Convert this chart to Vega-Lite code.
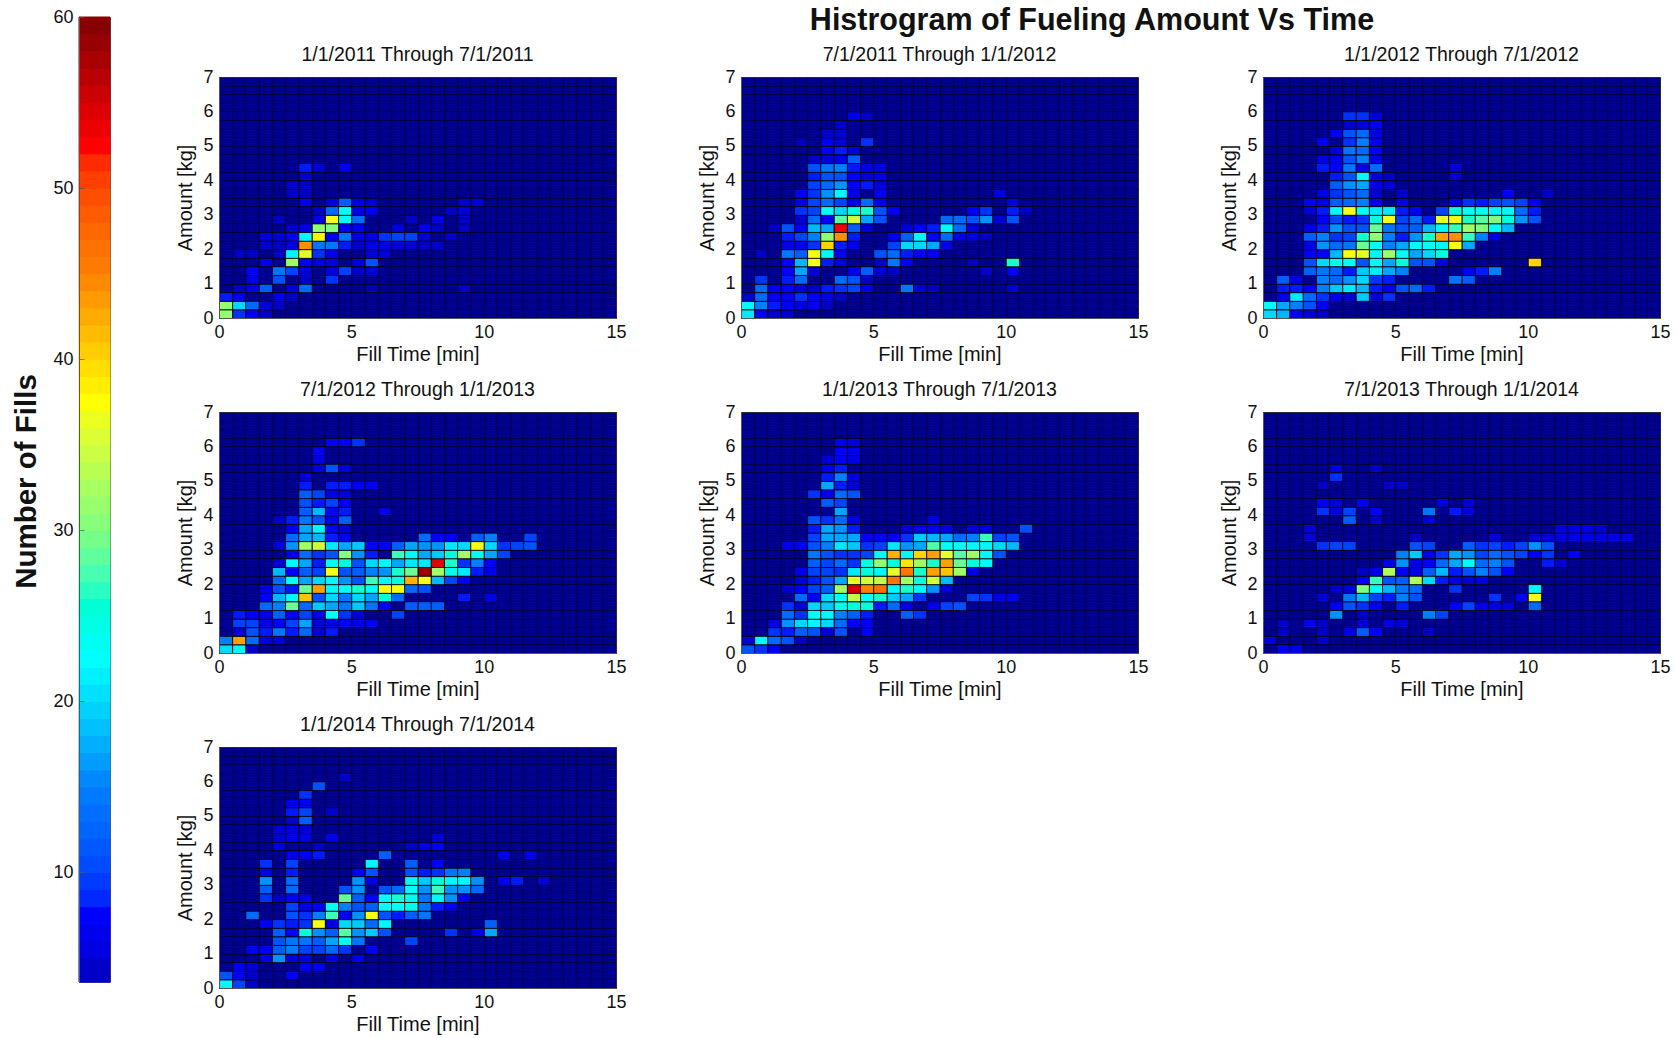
{"$schema":"https://vega.github.io/schema/vega-lite/v6.json","background":"white","padding":{"left":11,"top":6,"right":0,"bottom":0},"spacing":64,
"config":{"font":"Liberation Sans","axis":{"labelFont":"Liberation Sans","titleFont":"Liberation Sans","labelColor":"#111","titleColor":"#111","domainColor":"#555"},"view":{"stroke":"#555"}},
"datasets":{"bar":[{"v":3.6,"v2":5,"n":4},{"v":5,"v2":6,"n":5.5},{"v":6,"v2":7,"n":6.5},{"v":7,"v2":8,"n":7.5},{"v":8,"v2":9,"n":8.5},{"v":9,"v2":10,"n":9.5},{"v":10,"v2":11,"n":10.5},{"v":11,"v2":12,"n":11.5},{"v":12,"v2":13,"n":12.5},{"v":13,"v2":14,"n":13.5},{"v":14,"v2":15,"n":14.5},{"v":15,"v2":16,"n":15.5},{"v":16,"v2":17,"n":16.5},{"v":17,"v2":18,"n":17.5},{"v":18,"v2":19,"n":18.5},{"v":19,"v2":20,"n":19.5},{"v":20,"v2":21,"n":20.5},{"v":21,"v2":22,"n":21.5},{"v":22,"v2":23,"n":22.5},{"v":23,"v2":24,"n":23.5},{"v":24,"v2":25,"n":24.5},{"v":25,"v2":26,"n":25.5},{"v":26,"v2":27,"n":26.5},{"v":27,"v2":28,"n":27.5},{"v":28,"v2":29,"n":28.5},{"v":29,"v2":30,"n":29.5},{"v":30,"v2":31,"n":30.5},{"v":31,"v2":32,"n":31.5},{"v":32,"v2":33,"n":32.5},{"v":33,"v2":34,"n":33.5},{"v":34,"v2":35,"n":34.5},{"v":35,"v2":36,"n":35.5},{"v":36,"v2":37,"n":36.5},{"v":37,"v2":38,"n":37.5},{"v":38,"v2":39,"n":38.5},{"v":39,"v2":40,"n":39.5},{"v":40,"v2":41,"n":40.5},{"v":41,"v2":42,"n":41.5},{"v":42,"v2":43,"n":42.5},{"v":43,"v2":44,"n":43.5},{"v":44,"v2":45,"n":44.5},{"v":45,"v2":46,"n":45.5},{"v":46,"v2":47,"n":46.5},{"v":47,"v2":48,"n":47.5},{"v":48,"v2":49,"n":48.5},{"v":49,"v2":50,"n":49.5},{"v":50,"v2":51,"n":50.5},{"v":51,"v2":52,"n":51.5},{"v":52,"v2":53,"n":52.5},{"v":53,"v2":54,"n":53.5},{"v":54,"v2":55,"n":54.5},{"v":55,"v2":56,"n":55.5},{"v":56,"v2":57,"n":56.5},{"v":57,"v2":58,"n":57.5},{"v":58,"v2":59,"n":58.5},{"v":59,"v2":60,"n":59.5}],
"names":[{"p":1,"period":"1/1/2011 Through 7/1/2011"},{"p":2,"period":"7/1/2011 Through 1/1/2012"},{"p":3,"period":"1/1/2012 Through 7/1/2012"},{"p":4,"period":"7/1/2012 Through 1/1/2013"},{"p":5,"period":"1/1/2013 Through 7/1/2013"},{"p":6,"period":"7/1/2013 Through 1/1/2014"},{"p":7,"period":"1/1/2014 Through 7/1/2014"}],
"cells":[
{"p":1,"x":0,"y":0,"n":31},{"p":1,"x":0.5,"y":0,"n":9},{"p":1,"x":1,"y":0,"n":7},{"p":1,"x":1.5,"y":0,"n":4},{"p":1,"x":0,"y":0.25,"n":31},{"p":1,"x":0.5,"y":0.25,"n":20},{"p":1,"x":1,"y":0.25,"n":13},{"p":1,"x":1.5,"y":0.25,"n":5},{"p":1,"x":2,"y":0.25,"n":4},{"p":1,"x":0,"y":0.5,"n":8},{"p":1,"x":0.5,"y":0.5,"n":7},{"p":1,"x":2,"y":0.5,"n":6},{"p":1,"x":2.5,"y":0.5,"n":4},{"p":1,"x":0.5,"y":0.75,"n":4},{"p":1,"x":1,"y":0.75,"n":6},{"p":1,"x":1.5,"y":0.75,"n":12},{"p":1,"x":2.5,"y":0.75,"n":5},{"p":1,"x":3,"y":0.75,"n":13},{"p":1,"x":5.5,"y":0.75,"n":3},{"p":1,"x":9,"y":0.75,"n":4},{"p":1,"x":1,"y":1,"n":6},{"p":1,"x":2,"y":1,"n":11},{"p":1,"x":3,"y":1,"n":4},{"p":1,"x":4,"y":1,"n":9},{"p":1,"x":1,"y":1.25,"n":7},{"p":1,"x":2,"y":1.25,"n":14},{"p":1,"x":2.5,"y":1.25,"n":10},{"p":1,"x":3,"y":1.25,"n":5},{"p":1,"x":4,"y":1.25,"n":5},{"p":1,"x":4.5,"y":1.25,"n":10},{"p":1,"x":5,"y":1.25,"n":4},{"p":1,"x":5.5,"y":1.25,"n":5},{"p":1,"x":1.5,"y":1.5,"n":6},{"p":1,"x":2.5,"y":1.5,"n":32},{"p":1,"x":3,"y":1.5,"n":7},{"p":1,"x":3.5,"y":1.5,"n":6},{"p":1,"x":4,"y":1.5,"n":5},{"p":1,"x":5,"y":1.5,"n":5},{"p":1,"x":5.5,"y":1.5,"n":11},{"p":1,"x":0.5,"y":1.75,"n":4},{"p":1,"x":1,"y":1.75,"n":4},{"p":1,"x":2,"y":1.75,"n":4},{"p":1,"x":2.5,"y":1.75,"n":22},{"p":1,"x":3,"y":1.75,"n":36},{"p":1,"x":3.5,"y":1.75,"n":9},{"p":1,"x":4,"y":1.75,"n":6},{"p":1,"x":5.5,"y":1.75,"n":5},{"p":1,"x":6,"y":1.75,"n":5},{"p":1,"x":1.5,"y":2,"n":4},{"p":1,"x":2,"y":2,"n":4},{"p":1,"x":2.5,"y":2,"n":5},{"p":1,"x":3,"y":2,"n":44},{"p":1,"x":3.5,"y":2,"n":14},{"p":1,"x":4,"y":2,"n":14},{"p":1,"x":4.5,"y":2,"n":8},{"p":1,"x":5,"y":2,"n":4},{"p":1,"x":5.5,"y":2,"n":6},{"p":1,"x":6,"y":2,"n":6},{"p":1,"x":6.5,"y":2,"n":5},{"p":1,"x":7,"y":2,"n":5},{"p":1,"x":7.5,"y":2,"n":4},{"p":1,"x":8,"y":2,"n":4},{"p":1,"x":1.5,"y":2.25,"n":5},{"p":1,"x":2,"y":2.25,"n":5},{"p":1,"x":2.5,"y":2.25,"n":6},{"p":1,"x":3,"y":2.25,"n":22},{"p":1,"x":3.5,"y":2.25,"n":38},{"p":1,"x":4,"y":2.25,"n":7},{"p":1,"x":4.5,"y":2.25,"n":14},{"p":1,"x":5,"y":2.25,"n":6},{"p":1,"x":5.5,"y":2.25,"n":6},{"p":1,"x":6,"y":2.25,"n":9},{"p":1,"x":6.5,"y":2.25,"n":10},{"p":1,"x":7,"y":2.25,"n":10},{"p":1,"x":7.5,"y":2.25,"n":5},{"p":1,"x":8.5,"y":2.25,"n":4},{"p":1,"x":2.5,"y":2.5,"n":4},{"p":1,"x":3,"y":2.5,"n":6},{"p":1,"x":3.5,"y":2.5,"n":31},{"p":1,"x":4,"y":2.5,"n":30},{"p":1,"x":4.5,"y":2.5,"n":7},{"p":1,"x":5,"y":2.5,"n":7},{"p":1,"x":6.5,"y":2.5,"n":5},{"p":1,"x":7.5,"y":2.5,"n":6},{"p":1,"x":8,"y":2.5,"n":4},{"p":1,"x":9,"y":2.5,"n":4},{"p":1,"x":2,"y":2.75,"n":4},{"p":1,"x":3.5,"y":2.75,"n":6},{"p":1,"x":4,"y":2.75,"n":37},{"p":1,"x":4.5,"y":2.75,"n":23},{"p":1,"x":5,"y":2.75,"n":13},{"p":1,"x":7,"y":2.75,"n":4},{"p":1,"x":8,"y":2.75,"n":6},{"p":1,"x":9,"y":2.75,"n":4},{"p":1,"x":3.5,"y":3,"n":4},{"p":1,"x":4,"y":3,"n":13},{"p":1,"x":4.5,"y":3,"n":23},{"p":1,"x":5,"y":3,"n":6},{"p":1,"x":5.5,"y":3,"n":7},{"p":1,"x":8.5,"y":3,"n":4},{"p":1,"x":9,"y":3,"n":5},{"p":1,"x":3,"y":3.25,"n":6},{"p":1,"x":4,"y":3.25,"n":5},{"p":1,"x":4.5,"y":3.25,"n":12},{"p":1,"x":5,"y":3.25,"n":6},{"p":1,"x":5.5,"y":3.25,"n":4},{"p":1,"x":9,"y":3.25,"n":4},{"p":1,"x":9.5,"y":3.25,"n":5},{"p":1,"x":3,"y":3.5,"n":4},{"p":1,"x":2.5,"y":3.5,"n":4},{"p":1,"x":2.5,"y":3.75,"n":4},{"p":1,"x":3,"y":3.75,"n":4},{"p":1,"x":3,"y":4,"n":4},{"p":1,"x":3,"y":4.25,"n":8},{"p":1,"x":3.5,"y":4.25,"n":5},{"p":1,"x":4.5,"y":4.25,"n":7},
{"p":2,"x":0,"y":0,"n":21},{"p":2,"x":0.5,"y":0,"n":7},{"p":2,"x":1,"y":0,"n":4},{"p":2,"x":1.5,"y":0,"n":4},{"p":2,"x":0,"y":0.25,"n":22},{"p":2,"x":0.5,"y":0.25,"n":15},{"p":2,"x":1,"y":0.25,"n":8},{"p":2,"x":1.5,"y":0.25,"n":7},{"p":2,"x":2,"y":0.25,"n":6},{"p":2,"x":2.5,"y":0.25,"n":7},{"p":2,"x":3,"y":0.25,"n":4},{"p":2,"x":0,"y":0.5,"n":4},{"p":2,"x":0.5,"y":0.5,"n":13},{"p":2,"x":1,"y":0.5,"n":7},{"p":2,"x":1.5,"y":0.5,"n":7},{"p":2,"x":2,"y":0.5,"n":9},{"p":2,"x":2.5,"y":0.5,"n":7},{"p":2,"x":3,"y":0.5,"n":6},{"p":2,"x":3.5,"y":0.5,"n":4},{"p":2,"x":0.5,"y":0.75,"n":13},{"p":2,"x":1,"y":0.75,"n":6},{"p":2,"x":1.5,"y":0.75,"n":7},{"p":2,"x":2,"y":0.75,"n":5},{"p":2,"x":2.5,"y":0.75,"n":4},{"p":2,"x":3,"y":0.75,"n":8},{"p":2,"x":3.5,"y":0.75,"n":9},{"p":2,"x":4,"y":0.75,"n":10},{"p":2,"x":4.5,"y":0.75,"n":6},{"p":2,"x":6,"y":0.75,"n":14},{"p":2,"x":6.5,"y":0.75,"n":5},{"p":2,"x":7,"y":0.75,"n":4},{"p":2,"x":10,"y":0.75,"n":5},{"p":2,"x":0.5,"y":1,"n":9},{"p":2,"x":1.5,"y":1,"n":8},{"p":2,"x":2,"y":1,"n":13},{"p":2,"x":3.5,"y":1,"n":13},{"p":2,"x":4,"y":1,"n":11},{"p":2,"x":4.5,"y":1,"n":4},{"p":2,"x":1.5,"y":1.25,"n":7},{"p":2,"x":2,"y":1.25,"n":17},{"p":2,"x":2.5,"y":1.25,"n":5},{"p":2,"x":4,"y":1.25,"n":6},{"p":2,"x":4.5,"y":1.25,"n":12},{"p":2,"x":5,"y":1.25,"n":5},{"p":2,"x":5.5,"y":1.25,"n":4},{"p":2,"x":9,"y":1.25,"n":4},{"p":2,"x":10,"y":1.25,"n":7},{"p":2,"x":1.5,"y":1.5,"n":7},{"p":2,"x":2,"y":1.5,"n":18},{"p":2,"x":2.5,"y":1.5,"n":37},{"p":2,"x":3,"y":1.5,"n":8},{"p":2,"x":3.5,"y":1.5,"n":5},{"p":2,"x":5,"y":1.5,"n":4},{"p":2,"x":5.5,"y":1.5,"n":14},{"p":2,"x":6,"y":1.5,"n":7},{"p":2,"x":8.5,"y":1.5,"n":3},{"p":2,"x":10,"y":1.5,"n":26},{"p":2,"x":0.5,"y":1.75,"n":4},{"p":2,"x":1.5,"y":1.75,"n":14},{"p":2,"x":2,"y":1.75,"n":12},{"p":2,"x":2.5,"y":1.75,"n":37},{"p":2,"x":3,"y":1.75,"n":22},{"p":2,"x":3.5,"y":1.75,"n":7},{"p":2,"x":5,"y":1.75,"n":11},{"p":2,"x":5.5,"y":1.75,"n":13},{"p":2,"x":6,"y":1.75,"n":8},{"p":2,"x":6.5,"y":1.75,"n":7},{"p":2,"x":7,"y":1.75,"n":7},{"p":2,"x":1.5,"y":2,"n":6},{"p":2,"x":2,"y":2,"n":7},{"p":2,"x":2.5,"y":2,"n":9},{"p":2,"x":3,"y":2,"n":40},{"p":2,"x":3.5,"y":2,"n":8},{"p":2,"x":4,"y":2,"n":6},{"p":2,"x":5.5,"y":2,"n":10},{"p":2,"x":6,"y":2,"n":20},{"p":2,"x":6.5,"y":2,"n":20},{"p":2,"x":7,"y":2,"n":17},{"p":2,"x":7.5,"y":2,"n":6},{"p":2,"x":1.5,"y":2.25,"n":8},{"p":2,"x":2,"y":2.25,"n":10},{"p":2,"x":2.5,"y":2.25,"n":15},{"p":2,"x":3,"y":2.25,"n":31},{"p":2,"x":3.5,"y":2.25,"n":44},{"p":2,"x":4,"y":2.25,"n":8},{"p":2,"x":5.5,"y":2.25,"n":6},{"p":2,"x":6,"y":2.25,"n":12},{"p":2,"x":6.5,"y":2.25,"n":22},{"p":2,"x":7,"y":2.25,"n":7},{"p":2,"x":7.5,"y":2.25,"n":13},{"p":2,"x":8,"y":2.25,"n":6},{"p":2,"x":8.5,"y":2.25,"n":6},{"p":2,"x":9,"y":2.25,"n":4},{"p":2,"x":1,"y":2.5,"n":4},{"p":2,"x":1.5,"y":2.5,"n":11},{"p":2,"x":2,"y":2.5,"n":7},{"p":2,"x":2.5,"y":2.5,"n":18},{"p":2,"x":3,"y":2.5,"n":17},{"p":2,"x":3.5,"y":2.5,"n":53},{"p":2,"x":4,"y":2.5,"n":12},{"p":2,"x":4.5,"y":2.5,"n":5},{"p":2,"x":6,"y":2.5,"n":5},{"p":2,"x":6.5,"y":2.5,"n":7},{"p":2,"x":7,"y":2.5,"n":8},{"p":2,"x":7.5,"y":2.5,"n":22},{"p":2,"x":8,"y":2.5,"n":13},{"p":2,"x":8.5,"y":2.5,"n":5},{"p":2,"x":2,"y":2.75,"n":5},{"p":2,"x":2.5,"y":2.75,"n":13},{"p":2,"x":3,"y":2.75,"n":7},{"p":2,"x":3.5,"y":2.75,"n":28},{"p":2,"x":4,"y":2.75,"n":35},{"p":2,"x":4.5,"y":2.75,"n":17},{"p":2,"x":5,"y":2.75,"n":11},{"p":2,"x":7.5,"y":2.75,"n":13},{"p":2,"x":8,"y":2.75,"n":13},{"p":2,"x":8.5,"y":2.75,"n":11},{"p":2,"x":9,"y":2.75,"n":16},{"p":2,"x":9.5,"y":2.75,"n":5},{"p":2,"x":10,"y":2.75,"n":11},{"p":2,"x":2,"y":3,"n":9},{"p":2,"x":2.5,"y":3,"n":10},{"p":2,"x":3,"y":3,"n":23},{"p":2,"x":3.5,"y":3,"n":20},{"p":2,"x":4,"y":3,"n":25},{"p":2,"x":4.5,"y":3,"n":26},{"p":2,"x":5,"y":3,"n":11},{"p":2,"x":5.5,"y":3,"n":7},{"p":2,"x":8.5,"y":3,"n":7},{"p":2,"x":9,"y":3,"n":9},{"p":2,"x":10,"y":3,"n":8},{"p":2,"x":10.5,"y":3,"n":4},{"p":2,"x":2,"y":3.25,"n":6},{"p":2,"x":2.5,"y":3.25,"n":10},{"p":2,"x":3,"y":3.25,"n":13},{"p":2,"x":3.5,"y":3.25,"n":10},{"p":2,"x":4,"y":3.25,"n":6},{"p":2,"x":4.5,"y":3.25,"n":13},{"p":2,"x":5,"y":3.25,"n":6},{"p":2,"x":10,"y":3.25,"n":5},{"p":2,"x":2,"y":3.5,"n":7},{"p":2,"x":2.5,"y":3.5,"n":9},{"p":2,"x":3,"y":3.5,"n":16},{"p":2,"x":3.5,"y":3.5,"n":22},{"p":2,"x":4,"y":3.5,"n":6},{"p":2,"x":5,"y":3.5,"n":7},{"p":2,"x":9.5,"y":3.5,"n":5},{"p":2,"x":2.5,"y":3.75,"n":10},{"p":2,"x":3,"y":3.75,"n":13},{"p":2,"x":3.5,"y":3.75,"n":16},{"p":2,"x":4,"y":3.75,"n":7},{"p":2,"x":4.5,"y":3.75,"n":8},{"p":2,"x":5,"y":3.75,"n":5},{"p":2,"x":2.5,"y":4,"n":8},{"p":2,"x":3,"y":4,"n":11},{"p":2,"x":3.5,"y":4,"n":11},{"p":2,"x":4,"y":4,"n":7},{"p":2,"x":4.5,"y":4,"n":5},{"p":2,"x":5,"y":4,"n":6},{"p":2,"x":2.5,"y":4.25,"n":11},{"p":2,"x":3,"y":4.25,"n":14},{"p":2,"x":3.5,"y":4.25,"n":15},{"p":2,"x":4,"y":4.25,"n":8},{"p":2,"x":4.5,"y":4.25,"n":6},{"p":2,"x":5,"y":4.25,"n":6},{"p":2,"x":2.5,"y":4.5,"n":4},{"p":2,"x":3,"y":4.5,"n":5},{"p":2,"x":3.5,"y":4.5,"n":6},{"p":2,"x":4,"y":4.5,"n":12},{"p":2,"x":3,"y":4.75,"n":7},{"p":2,"x":3.5,"y":4.75,"n":8},{"p":2,"x":4,"y":4.75,"n":5},{"p":2,"x":3,"y":5,"n":7},{"p":2,"x":3.5,"y":5,"n":5},{"p":2,"x":4.5,"y":5,"n":9},{"p":2,"x":2,"y":5,"n":3},{"p":2,"x":3.5,"y":5.25,"n":5},{"p":2,"x":3,"y":5.25,"n":4},{"p":2,"x":3.5,"y":5.5,"n":4},{"p":2,"x":4,"y":5.75,"n":6},{"p":2,"x":4.5,"y":5.75,"n":4},
{"p":3,"x":0,"y":0,"n":20},{"p":3,"x":0.5,"y":0,"n":18},{"p":3,"x":1,"y":0,"n":7},{"p":3,"x":1.5,"y":0,"n":5},{"p":3,"x":2,"y":0,"n":4},{"p":3,"x":0,"y":0.25,"n":23},{"p":3,"x":0.5,"y":0.25,"n":17},{"p":3,"x":1,"y":0.25,"n":15},{"p":3,"x":1.5,"y":0.25,"n":11},{"p":3,"x":2,"y":0.25,"n":7},{"p":3,"x":0.5,"y":0.5,"n":6},{"p":3,"x":1,"y":0.5,"n":21},{"p":3,"x":1.5,"y":0.5,"n":13},{"p":3,"x":2,"y":0.5,"n":9},{"p":3,"x":2.5,"y":0.5,"n":6},{"p":3,"x":3,"y":0.5,"n":5},{"p":3,"x":3.5,"y":0.5,"n":19},{"p":3,"x":4,"y":0.5,"n":5},{"p":3,"x":4.5,"y":0.5,"n":9},{"p":3,"x":0.5,"y":0.75,"n":8},{"p":3,"x":1,"y":0.75,"n":8},{"p":3,"x":1.5,"y":0.75,"n":7},{"p":3,"x":2,"y":0.75,"n":15},{"p":3,"x":2.5,"y":0.75,"n":19},{"p":3,"x":3,"y":0.75,"n":21},{"p":3,"x":3.5,"y":0.75,"n":18},{"p":3,"x":4,"y":0.75,"n":8},{"p":3,"x":4.5,"y":0.75,"n":6},{"p":3,"x":5,"y":0.75,"n":11},{"p":3,"x":5.5,"y":0.75,"n":13},{"p":3,"x":6,"y":0.75,"n":8},{"p":3,"x":0.5,"y":1,"n":12},{"p":3,"x":1,"y":1,"n":6},{"p":3,"x":2,"y":1,"n":15},{"p":3,"x":2.5,"y":1,"n":13},{"p":3,"x":3,"y":1,"n":16},{"p":3,"x":3.5,"y":1,"n":20},{"p":3,"x":4,"y":1,"n":9},{"p":3,"x":4.5,"y":1,"n":8},{"p":3,"x":7,"y":1,"n":14},{"p":3,"x":7.5,"y":1,"n":12},{"p":3,"x":1.5,"y":1.25,"n":12},{"p":3,"x":2,"y":1.25,"n":14},{"p":3,"x":2.5,"y":1.25,"n":13},{"p":3,"x":3,"y":1.25,"n":8},{"p":3,"x":3.5,"y":1.25,"n":19},{"p":3,"x":4,"y":1.25,"n":21},{"p":3,"x":4.5,"y":1.25,"n":17},{"p":3,"x":5,"y":1.25,"n":15},{"p":3,"x":7.5,"y":1.25,"n":7},{"p":3,"x":8,"y":1.25,"n":8},{"p":3,"x":8.5,"y":1.25,"n":15},{"p":3,"x":1.5,"y":1.5,"n":11},{"p":3,"x":2,"y":1.5,"n":20},{"p":3,"x":2.5,"y":1.5,"n":24},{"p":3,"x":3,"y":1.5,"n":23},{"p":3,"x":3.5,"y":1.5,"n":11},{"p":3,"x":4,"y":1.5,"n":22},{"p":3,"x":4.5,"y":1.5,"n":17},{"p":3,"x":5,"y":1.5,"n":25},{"p":3,"x":5.5,"y":1.5,"n":11},{"p":3,"x":6,"y":1.5,"n":11},{"p":3,"x":6.5,"y":1.5,"n":5},{"p":3,"x":10,"y":1.5,"n":40},{"p":3,"x":1.5,"y":1.75,"n":7},{"p":3,"x":2,"y":1.75,"n":7},{"p":3,"x":2.5,"y":1.75,"n":18},{"p":3,"x":3,"y":1.75,"n":37},{"p":3,"x":3.5,"y":1.75,"n":36},{"p":3,"x":4,"y":1.75,"n":22},{"p":3,"x":4.5,"y":1.75,"n":32},{"p":3,"x":5,"y":1.75,"n":23},{"p":3,"x":5.5,"y":1.75,"n":17},{"p":3,"x":6,"y":1.75,"n":20},{"p":3,"x":6.5,"y":1.75,"n":25},{"p":3,"x":1.5,"y":2,"n":6},{"p":3,"x":2,"y":2,"n":16},{"p":3,"x":2.5,"y":2,"n":13},{"p":3,"x":3,"y":2,"n":14},{"p":3,"x":3.5,"y":2,"n":29},{"p":3,"x":4,"y":2,"n":23},{"p":3,"x":4.5,"y":2,"n":15},{"p":3,"x":5,"y":2,"n":17},{"p":3,"x":5.5,"y":2,"n":23},{"p":3,"x":6,"y":2,"n":23},{"p":3,"x":6.5,"y":2,"n":22},{"p":3,"x":7,"y":2,"n":37},{"p":3,"x":7.5,"y":2,"n":17},{"p":3,"x":1.5,"y":2.25,"n":12},{"p":3,"x":2,"y":2.25,"n":15},{"p":3,"x":2.5,"y":2.25,"n":9},{"p":3,"x":3,"y":2.25,"n":10},{"p":3,"x":3.5,"y":2.25,"n":26},{"p":3,"x":4,"y":2.25,"n":31},{"p":3,"x":4.5,"y":2.25,"n":15},{"p":3,"x":5,"y":2.25,"n":8},{"p":3,"x":5.5,"y":2.25,"n":16},{"p":3,"x":6,"y":2.25,"n":26},{"p":3,"x":6.5,"y":2.25,"n":43},{"p":3,"x":7,"y":2.25,"n":44},{"p":3,"x":7.5,"y":2.25,"n":27},{"p":3,"x":8,"y":2.25,"n":15},{"p":3,"x":8.5,"y":2.25,"n":6},{"p":3,"x":1.5,"y":2.5,"n":6},{"p":3,"x":2,"y":2.5,"n":8},{"p":3,"x":2.5,"y":2.5,"n":16},{"p":3,"x":3,"y":2.5,"n":11},{"p":3,"x":3.5,"y":2.5,"n":11},{"p":3,"x":4,"y":2.5,"n":29},{"p":3,"x":4.5,"y":2.5,"n":14},{"p":3,"x":5,"y":2.5,"n":11},{"p":3,"x":5.5,"y":2.5,"n":12},{"p":3,"x":6,"y":2.5,"n":18},{"p":3,"x":6.5,"y":2.5,"n":22},{"p":3,"x":7,"y":2.5,"n":27},{"p":3,"x":7.5,"y":2.5,"n":32},{"p":3,"x":8,"y":2.5,"n":30},{"p":3,"x":8.5,"y":2.5,"n":23},{"p":3,"x":9,"y":2.5,"n":18},{"p":3,"x":2,"y":2.75,"n":7},{"p":3,"x":2.5,"y":2.75,"n":10},{"p":3,"x":3,"y":2.75,"n":8},{"p":3,"x":3.5,"y":2.75,"n":9},{"p":3,"x":4,"y":2.75,"n":25},{"p":3,"x":4.5,"y":2.75,"n":37},{"p":3,"x":5,"y":2.75,"n":10},{"p":3,"x":5.5,"y":2.75,"n":13},{"p":3,"x":6,"y":2.75,"n":8},{"p":3,"x":6.5,"y":2.75,"n":36},{"p":3,"x":7,"y":2.75,"n":37},{"p":3,"x":7.5,"y":2.75,"n":26},{"p":3,"x":8,"y":2.75,"n":28},{"p":3,"x":8.5,"y":2.75,"n":30},{"p":3,"x":9,"y":2.75,"n":25},{"p":3,"x":9.5,"y":2.75,"n":16},{"p":3,"x":10,"y":2.75,"n":11},{"p":3,"x":1.5,"y":3,"n":5},{"p":3,"x":2,"y":3,"n":8},{"p":3,"x":2.5,"y":3,"n":22},{"p":3,"x":3,"y":3,"n":37},{"p":3,"x":3.5,"y":3,"n":23},{"p":3,"x":4,"y":3,"n":21},{"p":3,"x":4.5,"y":3,"n":21},{"p":3,"x":5,"y":3,"n":8},{"p":3,"x":5.5,"y":3,"n":7},{"p":3,"x":6.5,"y":3,"n":10},{"p":3,"x":7,"y":3,"n":25},{"p":3,"x":7.5,"y":3,"n":23},{"p":3,"x":8,"y":3,"n":23},{"p":3,"x":8.5,"y":3,"n":22},{"p":3,"x":9,"y":3,"n":22},{"p":3,"x":9.5,"y":3,"n":13},{"p":3,"x":10,"y":3,"n":8},{"p":3,"x":1.5,"y":3.25,"n":7},{"p":3,"x":2,"y":3.25,"n":6},{"p":3,"x":2.5,"y":3.25,"n":12},{"p":3,"x":3,"y":3.25,"n":13},{"p":3,"x":3.5,"y":3.25,"n":15},{"p":3,"x":4,"y":3.25,"n":6},{"p":3,"x":5,"y":3.25,"n":5},{"p":3,"x":7,"y":3.25,"n":6},{"p":3,"x":7.5,"y":3.25,"n":9},{"p":3,"x":8,"y":3.25,"n":8},{"p":3,"x":8.5,"y":3.25,"n":10},{"p":3,"x":9,"y":3.25,"n":11},{"p":3,"x":9.5,"y":3.25,"n":10},{"p":3,"x":10,"y":3.25,"n":7},{"p":3,"x":2,"y":3.5,"n":6},{"p":3,"x":2.5,"y":3.5,"n":9},{"p":3,"x":3,"y":3.5,"n":11},{"p":3,"x":3.5,"y":3.5,"n":13},{"p":3,"x":4,"y":3.5,"n":5},{"p":3,"x":5,"y":3.5,"n":4},{"p":3,"x":9,"y":3.5,"n":7},{"p":3,"x":10.5,"y":3.5,"n":4},{"p":3,"x":2.5,"y":3.75,"n":12},{"p":3,"x":3,"y":3.75,"n":16},{"p":3,"x":3.5,"y":3.75,"n":17},{"p":3,"x":4,"y":3.75,"n":6},{"p":3,"x":4.5,"y":3.75,"n":5},{"p":3,"x":2.5,"y":4,"n":8},{"p":3,"x":3,"y":4,"n":11},{"p":3,"x":3.5,"y":4,"n":22},{"p":3,"x":4,"y":4,"n":5},{"p":3,"x":4.5,"y":4,"n":4},{"p":3,"x":7,"y":4,"n":5},{"p":3,"x":2,"y":4.25,"n":8},{"p":3,"x":2.5,"y":4.25,"n":7},{"p":3,"x":3,"y":4.25,"n":14},{"p":3,"x":3.5,"y":4.25,"n":6},{"p":3,"x":4,"y":4.25,"n":13},{"p":3,"x":7,"y":4.25,"n":5},{"p":3,"x":2,"y":4.5,"n":6},{"p":3,"x":2.5,"y":4.5,"n":6},{"p":3,"x":3,"y":4.5,"n":11},{"p":3,"x":3.5,"y":4.5,"n":15},{"p":3,"x":4,"y":4.5,"n":6},{"p":3,"x":2.5,"y":4.75,"n":5},{"p":3,"x":3,"y":4.75,"n":14},{"p":3,"x":3.5,"y":4.75,"n":13},{"p":3,"x":4,"y":4.75,"n":7},{"p":3,"x":2,"y":5,"n":7},{"p":3,"x":3,"y":5,"n":9},{"p":3,"x":3.5,"y":5,"n":15},{"p":3,"x":4,"y":5,"n":6},{"p":3,"x":2.5,"y":5.25,"n":7},{"p":3,"x":3,"y":5.25,"n":11},{"p":3,"x":3.5,"y":5.25,"n":13},{"p":3,"x":4,"y":5.25,"n":6},{"p":3,"x":3,"y":5.5,"n":5},{"p":3,"x":3.5,"y":5.5,"n":6},{"p":3,"x":4,"y":5.5,"n":7},{"p":3,"x":3,"y":5.75,"n":9},{"p":3,"x":3.5,"y":5.75,"n":9},{"p":3,"x":4,"y":5.75,"n":5},
{"p":4,"x":0,"y":0,"n":20},{"p":4,"x":0.5,"y":0,"n":22},{"p":4,"x":1,"y":0,"n":4},{"p":4,"x":0,"y":0.25,"n":15},{"p":4,"x":0.5,"y":0.25,"n":43},{"p":4,"x":1,"y":0.25,"n":13},{"p":4,"x":1.5,"y":0.25,"n":5},{"p":4,"x":2,"y":0.25,"n":5},{"p":4,"x":0.5,"y":0.5,"n":5},{"p":4,"x":1,"y":0.5,"n":11},{"p":4,"x":1.5,"y":0.5,"n":8},{"p":4,"x":2,"y":0.5,"n":14},{"p":4,"x":2.5,"y":0.5,"n":8},{"p":4,"x":3,"y":0.5,"n":13},{"p":4,"x":3.5,"y":0.5,"n":5},{"p":4,"x":4,"y":0.5,"n":8},{"p":4,"x":0.5,"y":0.75,"n":10},{"p":4,"x":1,"y":0.75,"n":10},{"p":4,"x":1.5,"y":0.75,"n":6},{"p":4,"x":2,"y":0.75,"n":7},{"p":4,"x":2.5,"y":0.75,"n":10},{"p":4,"x":3,"y":0.75,"n":17},{"p":4,"x":3.5,"y":0.75,"n":5},{"p":4,"x":4,"y":0.75,"n":6},{"p":4,"x":4.5,"y":0.75,"n":7},{"p":4,"x":5,"y":0.75,"n":6},{"p":4,"x":5.5,"y":0.75,"n":7},{"p":4,"x":0.5,"y":1,"n":8},{"p":4,"x":1,"y":1,"n":7},{"p":4,"x":1.5,"y":1,"n":6},{"p":4,"x":2,"y":1,"n":12},{"p":4,"x":2.5,"y":1,"n":7},{"p":4,"x":3,"y":1,"n":10},{"p":4,"x":3.5,"y":1,"n":6},{"p":4,"x":4,"y":1,"n":23},{"p":4,"x":4.5,"y":1,"n":9},{"p":4,"x":5,"y":1,"n":5},{"p":4,"x":6.5,"y":1,"n":10},{"p":4,"x":1.5,"y":1.25,"n":13},{"p":4,"x":2,"y":1.25,"n":15},{"p":4,"x":2.5,"y":1.25,"n":29},{"p":4,"x":3,"y":1.25,"n":13},{"p":4,"x":3.5,"y":1.25,"n":19},{"p":4,"x":4,"y":1.25,"n":17},{"p":4,"x":4.5,"y":1.25,"n":14},{"p":4,"x":5,"y":1.25,"n":19},{"p":4,"x":5.5,"y":1.25,"n":14},{"p":4,"x":6,"y":1.25,"n":7},{"p":4,"x":7,"y":1.25,"n":12},{"p":4,"x":7.5,"y":1.25,"n":12},{"p":4,"x":8,"y":1.25,"n":12},{"p":4,"x":1.5,"y":1.5,"n":7},{"p":4,"x":2,"y":1.5,"n":18},{"p":4,"x":2.5,"y":1.5,"n":22},{"p":4,"x":3,"y":1.5,"n":41},{"p":4,"x":3.5,"y":1.5,"n":11},{"p":4,"x":4,"y":1.5,"n":20},{"p":4,"x":4.5,"y":1.5,"n":14},{"p":4,"x":5,"y":1.5,"n":20},{"p":4,"x":5.5,"y":1.5,"n":17},{"p":4,"x":6,"y":1.5,"n":25},{"p":4,"x":6.5,"y":1.5,"n":13},{"p":4,"x":9,"y":1.5,"n":8},{"p":4,"x":10,"y":1.5,"n":6},{"p":4,"x":1.5,"y":1.75,"n":6},{"p":4,"x":2,"y":1.75,"n":11},{"p":4,"x":2.5,"y":1.75,"n":8},{"p":4,"x":3,"y":1.75,"n":29},{"p":4,"x":3.5,"y":1.75,"n":43},{"p":4,"x":4,"y":1.75,"n":22},{"p":4,"x":4.5,"y":1.75,"n":23},{"p":4,"x":5,"y":1.75,"n":26},{"p":4,"x":5.5,"y":1.75,"n":23},{"p":4,"x":6,"y":1.75,"n":37},{"p":4,"x":6.5,"y":1.75,"n":37},{"p":4,"x":7,"y":1.75,"n":13},{"p":4,"x":7.5,"y":1.75,"n":11},{"p":4,"x":2,"y":2,"n":13},{"p":4,"x":2.5,"y":2,"n":23},{"p":4,"x":3,"y":2,"n":17},{"p":4,"x":3.5,"y":2,"n":20},{"p":4,"x":4,"y":2,"n":22},{"p":4,"x":4.5,"y":2,"n":16},{"p":4,"x":5,"y":2,"n":11},{"p":4,"x":5.5,"y":2,"n":27},{"p":4,"x":6,"y":2,"n":22},{"p":4,"x":6.5,"y":2,"n":25},{"p":4,"x":7,"y":2,"n":42},{"p":4,"x":7.5,"y":2,"n":37},{"p":4,"x":8,"y":2,"n":18},{"p":4,"x":8.5,"y":2,"n":10},{"p":4,"x":9,"y":2,"n":7},{"p":4,"x":2,"y":2.25,"n":18},{"p":4,"x":2.5,"y":2.25,"n":7},{"p":4,"x":3,"y":2.25,"n":12},{"p":4,"x":3.5,"y":2.25,"n":10},{"p":4,"x":4,"y":2.25,"n":37},{"p":4,"x":4.5,"y":2.25,"n":11},{"p":4,"x":5,"y":2.25,"n":12},{"p":4,"x":5.5,"y":2.25,"n":15},{"p":4,"x":6,"y":2.25,"n":16},{"p":4,"x":6.5,"y":2.25,"n":26},{"p":4,"x":7,"y":2.25,"n":29},{"p":4,"x":7.5,"y":2.25,"n":58},{"p":4,"x":8,"y":2.25,"n":32},{"p":4,"x":8.5,"y":2.25,"n":24},{"p":4,"x":9,"y":2.25,"n":21},{"p":4,"x":9.5,"y":2.25,"n":8},{"p":4,"x":10,"y":2.25,"n":6},{"p":4,"x":2,"y":2.5,"n":5},{"p":4,"x":2.5,"y":2.5,"n":22},{"p":4,"x":3,"y":2.5,"n":17},{"p":4,"x":3.5,"y":2.5,"n":8},{"p":4,"x":4,"y":2.5,"n":23},{"p":4,"x":4.5,"y":2.5,"n":25},{"p":4,"x":5,"y":2.5,"n":11},{"p":4,"x":5.5,"y":2.5,"n":20},{"p":4,"x":6,"y":2.5,"n":22},{"p":4,"x":6.5,"y":2.5,"n":17},{"p":4,"x":7,"y":2.5,"n":21},{"p":4,"x":7.5,"y":2.5,"n":21},{"p":4,"x":8,"y":2.5,"n":54},{"p":4,"x":8.5,"y":2.5,"n":26},{"p":4,"x":9,"y":2.5,"n":9},{"p":4,"x":9.5,"y":2.5,"n":15},{"p":4,"x":10,"y":2.5,"n":7},{"p":4,"x":2.5,"y":2.75,"n":6},{"p":4,"x":3,"y":2.75,"n":13},{"p":4,"x":3.5,"y":2.75,"n":9},{"p":4,"x":4,"y":2.75,"n":11},{"p":4,"x":4.5,"y":2.75,"n":30},{"p":4,"x":5,"y":2.75,"n":16},{"p":4,"x":5.5,"y":2.75,"n":8},{"p":4,"x":6.5,"y":2.75,"n":27},{"p":4,"x":7,"y":2.75,"n":24},{"p":4,"x":7.5,"y":2.75,"n":17},{"p":4,"x":8,"y":2.75,"n":19},{"p":4,"x":8.5,"y":2.75,"n":25},{"p":4,"x":9,"y":2.75,"n":32},{"p":4,"x":9.5,"y":2.75,"n":24},{"p":4,"x":10,"y":2.75,"n":17},{"p":4,"x":10.5,"y":2.75,"n":10},{"p":4,"x":2,"y":3,"n":5},{"p":4,"x":2.5,"y":3,"n":16},{"p":4,"x":3,"y":3,"n":32},{"p":4,"x":3.5,"y":3,"n":35},{"p":4,"x":4,"y":3,"n":21},{"p":4,"x":4.5,"y":3,"n":17},{"p":4,"x":5,"y":3,"n":19},{"p":4,"x":5.5,"y":3,"n":7},{"p":4,"x":6,"y":3,"n":7},{"p":4,"x":6.5,"y":3,"n":12},{"p":4,"x":7,"y":3,"n":17},{"p":4,"x":7.5,"y":3,"n":16},{"p":4,"x":8,"y":3,"n":16},{"p":4,"x":8.5,"y":3,"n":21},{"p":4,"x":9,"y":3,"n":20},{"p":4,"x":9.5,"y":3,"n":37},{"p":4,"x":10,"y":3,"n":20},{"p":4,"x":10.5,"y":3,"n":9},{"p":4,"x":11,"y":3,"n":10},{"p":4,"x":11.5,"y":3,"n":11},{"p":4,"x":2.5,"y":3.25,"n":13},{"p":4,"x":3,"y":3.25,"n":17},{"p":4,"x":3.5,"y":3.25,"n":18},{"p":4,"x":4,"y":3.25,"n":8},{"p":4,"x":4.5,"y":3.25,"n":7},{"p":4,"x":7.5,"y":3.25,"n":13},{"p":4,"x":8,"y":3.25,"n":7},{"p":4,"x":8.5,"y":3.25,"n":7},{"p":4,"x":9.5,"y":3.25,"n":12},{"p":4,"x":10,"y":3.25,"n":15},{"p":4,"x":11.5,"y":3.25,"n":10},{"p":4,"x":2.5,"y":3.5,"n":7},{"p":4,"x":3,"y":3.5,"n":17},{"p":4,"x":3.5,"y":3.5,"n":22},{"p":4,"x":4,"y":3.5,"n":7},{"p":4,"x":4.5,"y":3.5,"n":5},{"p":4,"x":2,"y":3.75,"n":4},{"p":4,"x":2.5,"y":3.75,"n":8},{"p":4,"x":3,"y":3.75,"n":14},{"p":4,"x":3.5,"y":3.75,"n":11},{"p":4,"x":4,"y":3.75,"n":6},{"p":4,"x":4.5,"y":3.75,"n":12},{"p":4,"x":3,"y":4,"n":12},{"p":4,"x":3.5,"y":4,"n":18},{"p":4,"x":4,"y":4,"n":7},{"p":4,"x":4.5,"y":4,"n":8},{"p":4,"x":6,"y":4,"n":6},{"p":4,"x":3,"y":4.25,"n":11},{"p":4,"x":3.5,"y":4.25,"n":8},{"p":4,"x":4,"y":4.25,"n":10},{"p":4,"x":4.5,"y":4.25,"n":7},{"p":4,"x":3,"y":4.5,"n":12},{"p":4,"x":3.5,"y":4.5,"n":10},{"p":4,"x":4,"y":4.5,"n":6},{"p":4,"x":4.5,"y":4.5,"n":5},{"p":4,"x":3,"y":4.75,"n":8},{"p":4,"x":4,"y":4.75,"n":8},{"p":4,"x":4.5,"y":4.75,"n":8},{"p":4,"x":5,"y":4.75,"n":7},{"p":4,"x":5.5,"y":4.75,"n":7},{"p":4,"x":3,"y":5,"n":5},{"p":4,"x":3.5,"y":5.25,"n":5},{"p":4,"x":4,"y":5.25,"n":11},{"p":4,"x":4.5,"y":5.25,"n":5},{"p":4,"x":3.5,"y":5.5,"n":6},{"p":4,"x":3.5,"y":5.75,"n":7},{"p":4,"x":4,"y":6,"n":7},{"p":4,"x":4.5,"y":6,"n":7},{"p":4,"x":5,"y":6,"n":9},
{"p":5,"x":0,"y":0,"n":11},{"p":5,"x":0.5,"y":0,"n":9},{"p":5,"x":1,"y":0,"n":6},{"p":5,"x":0,"y":0.25,"n":5},{"p":5,"x":0.5,"y":0.25,"n":22},{"p":5,"x":1,"y":0.25,"n":13},{"p":5,"x":1.5,"y":0.25,"n":11},{"p":5,"x":2,"y":0.25,"n":4},{"p":5,"x":1,"y":0.5,"n":9},{"p":5,"x":1.5,"y":0.5,"n":8},{"p":5,"x":2,"y":0.5,"n":12},{"p":5,"x":2.5,"y":0.5,"n":11},{"p":5,"x":3,"y":0.5,"n":5},{"p":5,"x":3.5,"y":0.5,"n":11},{"p":5,"x":4.5,"y":0.5,"n":7},{"p":5,"x":1,"y":0.75,"n":6},{"p":5,"x":1.5,"y":0.75,"n":16},{"p":5,"x":2,"y":0.75,"n":20},{"p":5,"x":2.5,"y":0.75,"n":22},{"p":5,"x":3,"y":0.75,"n":20},{"p":5,"x":3.5,"y":0.75,"n":13},{"p":5,"x":4,"y":0.75,"n":7},{"p":5,"x":4.5,"y":0.75,"n":7},{"p":5,"x":1.5,"y":1,"n":13},{"p":5,"x":2,"y":1,"n":9},{"p":5,"x":2.5,"y":1,"n":23},{"p":5,"x":3,"y":1,"n":22},{"p":5,"x":3.5,"y":1,"n":15},{"p":5,"x":4,"y":1,"n":12},{"p":5,"x":4.5,"y":1,"n":8},{"p":5,"x":6,"y":1,"n":12},{"p":5,"x":6.5,"y":1,"n":9},{"p":5,"x":1.5,"y":1.25,"n":9},{"p":5,"x":2,"y":1.25,"n":5},{"p":5,"x":2.5,"y":1.25,"n":20},{"p":5,"x":3,"y":1.25,"n":19},{"p":5,"x":3.5,"y":1.25,"n":24},{"p":5,"x":4,"y":1.25,"n":25},{"p":5,"x":4.5,"y":1.25,"n":25},{"p":5,"x":5,"y":1.25,"n":8},{"p":5,"x":5.5,"y":1.25,"n":13},{"p":5,"x":6,"y":1.25,"n":6},{"p":5,"x":7,"y":1.25,"n":6},{"p":5,"x":7.5,"y":1.25,"n":10},{"p":5,"x":8,"y":1.25,"n":11},{"p":5,"x":2,"y":1.5,"n":13},{"p":5,"x":2.5,"y":1.5,"n":7},{"p":5,"x":3,"y":1.5,"n":20},{"p":5,"x":3.5,"y":1.5,"n":23},{"p":5,"x":4,"y":1.5,"n":34},{"p":5,"x":4.5,"y":1.5,"n":23},{"p":5,"x":5,"y":1.5,"n":26},{"p":5,"x":5.5,"y":1.5,"n":19},{"p":5,"x":6,"y":1.5,"n":17},{"p":5,"x":6.5,"y":1.5,"n":9},{"p":5,"x":8.5,"y":1.5,"n":10},{"p":5,"x":9,"y":1.5,"n":9},{"p":5,"x":10,"y":1.5,"n":7},{"p":5,"x":9.5,"y":1.5,"n":6},{"p":5,"x":1.5,"y":1.75,"n":4},{"p":5,"x":2,"y":1.75,"n":7},{"p":5,"x":2.5,"y":1.75,"n":10},{"p":5,"x":3,"y":1.75,"n":12},{"p":5,"x":3.5,"y":1.75,"n":32},{"p":5,"x":4,"y":1.75,"n":55},{"p":5,"x":4.5,"y":1.75,"n":45},{"p":5,"x":5,"y":1.75,"n":47},{"p":5,"x":5.5,"y":1.75,"n":22},{"p":5,"x":6,"y":1.75,"n":26},{"p":5,"x":6.5,"y":1.75,"n":22},{"p":5,"x":7,"y":1.75,"n":16},{"p":5,"x":7.5,"y":1.75,"n":5},{"p":5,"x":2,"y":2,"n":5},{"p":5,"x":2.5,"y":2,"n":8},{"p":5,"x":3,"y":2,"n":11},{"p":5,"x":3.5,"y":2,"n":17},{"p":5,"x":4,"y":2,"n":36},{"p":5,"x":4.5,"y":2,"n":35},{"p":5,"x":5,"y":2,"n":34},{"p":5,"x":5.5,"y":2,"n":46},{"p":5,"x":6,"y":2,"n":32},{"p":5,"x":6.5,"y":2,"n":25},{"p":5,"x":7,"y":2,"n":35},{"p":5,"x":7.5,"y":2,"n":18},{"p":5,"x":2,"y":2.25,"n":6},{"p":5,"x":2.5,"y":2.25,"n":10},{"p":5,"x":3,"y":2.25,"n":10},{"p":5,"x":3.5,"y":2.25,"n":9},{"p":5,"x":4,"y":2.25,"n":21},{"p":5,"x":4.5,"y":2.25,"n":25},{"p":5,"x":5,"y":2.25,"n":22},{"p":5,"x":5.5,"y":2.25,"n":36},{"p":5,"x":6,"y":2.25,"n":46},{"p":5,"x":6.5,"y":2.25,"n":26},{"p":5,"x":7,"y":2.25,"n":43},{"p":5,"x":7.5,"y":2.25,"n":41},{"p":5,"x":8,"y":2.25,"n":32},{"p":5,"x":8.5,"y":2.25,"n":6},{"p":5,"x":2.5,"y":2.5,"n":12},{"p":5,"x":3,"y":2.5,"n":10},{"p":5,"x":3.5,"y":2.5,"n":13},{"p":5,"x":4,"y":2.5,"n":9},{"p":5,"x":4.5,"y":2.5,"n":25},{"p":5,"x":5,"y":2.5,"n":31},{"p":5,"x":5.5,"y":2.5,"n":25},{"p":5,"x":6,"y":2.5,"n":39},{"p":5,"x":6.5,"y":2.5,"n":32},{"p":5,"x":7,"y":2.5,"n":26},{"p":5,"x":7.5,"y":2.5,"n":43},{"p":5,"x":8,"y":2.5,"n":29},{"p":5,"x":8.5,"y":2.5,"n":25},{"p":5,"x":9,"y":2.5,"n":22},{"p":5,"x":2.5,"y":2.75,"n":14},{"p":5,"x":3,"y":2.75,"n":11},{"p":5,"x":3.5,"y":2.75,"n":9},{"p":5,"x":4,"y":2.75,"n":9},{"p":5,"x":4.5,"y":2.75,"n":10},{"p":5,"x":5,"y":2.75,"n":22},{"p":5,"x":5.5,"y":2.75,"n":42},{"p":5,"x":6,"y":2.75,"n":22},{"p":5,"x":6.5,"y":2.75,"n":40},{"p":5,"x":7,"y":2.75,"n":43},{"p":5,"x":7.5,"y":2.75,"n":36},{"p":5,"x":8,"y":2.75,"n":28},{"p":5,"x":8.5,"y":2.75,"n":32},{"p":5,"x":9,"y":2.75,"n":22},{"p":5,"x":9.5,"y":2.75,"n":11},{"p":5,"x":1.5,"y":3,"n":6},{"p":5,"x":2,"y":3,"n":7},{"p":5,"x":2.5,"y":3,"n":11},{"p":5,"x":3,"y":3,"n":15},{"p":5,"x":3.5,"y":3,"n":21},{"p":5,"x":4,"y":3,"n":19},{"p":5,"x":4.5,"y":3,"n":9},{"p":5,"x":5,"y":3,"n":10},{"p":5,"x":5.5,"y":3,"n":21},{"p":5,"x":6,"y":3,"n":16},{"p":5,"x":6.5,"y":3,"n":17},{"p":5,"x":7,"y":3,"n":28},{"p":5,"x":7.5,"y":3,"n":23},{"p":5,"x":8,"y":3,"n":23},{"p":5,"x":8.5,"y":3,"n":22},{"p":5,"x":9,"y":3,"n":22},{"p":5,"x":9.5,"y":3,"n":20},{"p":5,"x":10,"y":3,"n":18},{"p":5,"x":2.5,"y":3.25,"n":10},{"p":5,"x":3,"y":3.25,"n":17},{"p":5,"x":3.5,"y":3.25,"n":17},{"p":5,"x":4,"y":3.25,"n":17},{"p":5,"x":4.5,"y":3.25,"n":7},{"p":5,"x":5,"y":3.25,"n":7},{"p":5,"x":5.5,"y":3.25,"n":7},{"p":5,"x":6,"y":3.25,"n":9},{"p":5,"x":6.5,"y":3.25,"n":19},{"p":5,"x":7,"y":3.25,"n":18},{"p":5,"x":7.5,"y":3.25,"n":17},{"p":5,"x":8,"y":3.25,"n":13},{"p":5,"x":8.5,"y":3.25,"n":15},{"p":5,"x":9,"y":3.25,"n":27},{"p":5,"x":9.5,"y":3.25,"n":10},{"p":5,"x":10,"y":3.25,"n":11},{"p":5,"x":2.5,"y":3.5,"n":8},{"p":5,"x":3,"y":3.5,"n":17},{"p":5,"x":3.5,"y":3.5,"n":16},{"p":5,"x":4,"y":3.5,"n":8},{"p":5,"x":6,"y":3.5,"n":5},{"p":5,"x":6.5,"y":3.5,"n":6},{"p":5,"x":7,"y":3.5,"n":7},{"p":5,"x":7.5,"y":3.5,"n":6},{"p":5,"x":8.5,"y":3.5,"n":5},{"p":5,"x":9,"y":3.5,"n":5},{"p":5,"x":10.5,"y":3.5,"n":11},{"p":5,"x":2.5,"y":3.75,"n":11},{"p":5,"x":3,"y":3.75,"n":9},{"p":5,"x":3.5,"y":3.75,"n":13},{"p":5,"x":4,"y":3.75,"n":6},{"p":5,"x":7,"y":3.75,"n":6},{"p":5,"x":3.5,"y":4,"n":17},{"p":5,"x":3,"y":4.25,"n":12},{"p":5,"x":3.5,"y":4.25,"n":10},{"p":5,"x":2.5,"y":4.5,"n":9},{"p":5,"x":3,"y":4.5,"n":7},{"p":5,"x":3.5,"y":4.5,"n":13},{"p":5,"x":4,"y":4.5,"n":11},{"p":5,"x":3,"y":4.75,"n":17},{"p":5,"x":3.5,"y":4.75,"n":8},{"p":5,"x":4,"y":4.75,"n":5},{"p":5,"x":3,"y":5,"n":8},{"p":5,"x":3.5,"y":5,"n":15},{"p":5,"x":4,"y":5,"n":5},{"p":5,"x":3,"y":5.25,"n":6},{"p":5,"x":3.5,"y":5.25,"n":8},{"p":5,"x":3,"y":5.5,"n":5},{"p":5,"x":3.5,"y":5.5,"n":7},{"p":5,"x":4,"y":5.5,"n":6},{"p":5,"x":3.5,"y":5.75,"n":7},{"p":5,"x":4,"y":5.75,"n":6},{"p":5,"x":3.5,"y":6,"n":6},{"p":5,"x":4,"y":6,"n":5},
{"p":6,"x":0.5,"y":0,"n":7},{"p":6,"x":1,"y":0,"n":6},{"p":6,"x":0,"y":0.25,"n":5},{"p":6,"x":2,"y":0.25,"n":4},{"p":6,"x":0.5,"y":0.5,"n":4},{"p":6,"x":2,"y":0.5,"n":4},{"p":6,"x":3,"y":0.5,"n":6},{"p":6,"x":3.5,"y":0.5,"n":12},{"p":6,"x":4,"y":0.5,"n":7},{"p":6,"x":6,"y":0.5,"n":4},{"p":6,"x":0.5,"y":0.75,"n":4},{"p":6,"x":1.5,"y":0.75,"n":7},{"p":6,"x":2,"y":0.75,"n":4},{"p":6,"x":3.5,"y":0.75,"n":5},{"p":6,"x":4.5,"y":0.75,"n":6},{"p":6,"x":5,"y":0.75,"n":5},{"p":6,"x":2.5,"y":1,"n":16},{"p":6,"x":3.5,"y":1,"n":4},{"p":6,"x":6,"y":1,"n":15},{"p":6,"x":6.5,"y":1,"n":10},{"p":6,"x":2.5,"y":1.25,"n":7},{"p":6,"x":3,"y":1.25,"n":11},{"p":6,"x":3.5,"y":1.25,"n":9},{"p":6,"x":4,"y":1.25,"n":7},{"p":6,"x":5,"y":1.25,"n":8},{"p":6,"x":7,"y":1.25,"n":7},{"p":6,"x":7.5,"y":1.25,"n":10},{"p":6,"x":8,"y":1.25,"n":6},{"p":6,"x":8.5,"y":1.25,"n":6},{"p":6,"x":9,"y":1.25,"n":5},{"p":6,"x":10,"y":1.25,"n":13},{"p":6,"x":2,"y":1.5,"n":5},{"p":6,"x":3,"y":1.5,"n":14},{"p":6,"x":3.5,"y":1.5,"n":18},{"p":6,"x":4,"y":1.5,"n":10},{"p":6,"x":4.5,"y":1.5,"n":8},{"p":6,"x":5,"y":1.5,"n":15},{"p":6,"x":5.5,"y":1.5,"n":11},{"p":6,"x":8.5,"y":1.5,"n":9},{"p":6,"x":9.5,"y":1.5,"n":7},{"p":6,"x":10,"y":1.5,"n":37},{"p":6,"x":2.5,"y":1.75,"n":4},{"p":6,"x":3,"y":1.75,"n":5},{"p":6,"x":3.5,"y":1.75,"n":30},{"p":6,"x":4,"y":1.75,"n":23},{"p":6,"x":4.5,"y":1.75,"n":18},{"p":6,"x":5,"y":1.75,"n":14},{"p":6,"x":5.5,"y":1.75,"n":13},{"p":6,"x":7,"y":1.75,"n":9},{"p":6,"x":10,"y":1.75,"n":22},{"p":6,"x":3.5,"y":2,"n":7},{"p":6,"x":4,"y":2,"n":27},{"p":6,"x":4.5,"y":2,"n":11},{"p":6,"x":5,"y":2,"n":12},{"p":6,"x":5.5,"y":2,"n":33},{"p":6,"x":6,"y":2,"n":20},{"p":6,"x":6.5,"y":2,"n":8},{"p":6,"x":7,"y":2,"n":6},{"p":6,"x":7.5,"y":2,"n":5},{"p":6,"x":8,"y":2,"n":6},{"p":6,"x":3.5,"y":2.25,"n":4},{"p":6,"x":4,"y":2.25,"n":6},{"p":6,"x":4.5,"y":2.25,"n":33},{"p":6,"x":5,"y":2.25,"n":7},{"p":6,"x":5.5,"y":2.25,"n":6},{"p":6,"x":6,"y":2.25,"n":12},{"p":6,"x":6.5,"y":2.25,"n":18},{"p":6,"x":7,"y":2.25,"n":8},{"p":6,"x":7.5,"y":2.25,"n":11},{"p":6,"x":8,"y":2.25,"n":15},{"p":6,"x":8.5,"y":2.25,"n":11},{"p":6,"x":9,"y":2.25,"n":7},{"p":6,"x":4.5,"y":2.5,"n":6},{"p":6,"x":5,"y":2.5,"n":16},{"p":6,"x":5.5,"y":2.5,"n":6},{"p":6,"x":6,"y":2.5,"n":7},{"p":6,"x":6.5,"y":2.5,"n":13},{"p":6,"x":7,"y":2.5,"n":17},{"p":6,"x":7.5,"y":2.5,"n":23},{"p":6,"x":8,"y":2.5,"n":13},{"p":6,"x":8.5,"y":2.5,"n":15},{"p":6,"x":9,"y":2.5,"n":11},{"p":6,"x":10.5,"y":2.5,"n":8},{"p":6,"x":11,"y":2.5,"n":5},{"p":6,"x":5,"y":2.75,"n":15},{"p":6,"x":5.5,"y":2.75,"n":19},{"p":6,"x":6,"y":2.75,"n":6},{"p":6,"x":6.5,"y":2.75,"n":9},{"p":6,"x":7,"y":2.75,"n":17},{"p":6,"x":7.5,"y":2.75,"n":16},{"p":6,"x":8,"y":2.75,"n":10},{"p":6,"x":8.5,"y":2.75,"n":13},{"p":6,"x":9,"y":2.75,"n":11},{"p":6,"x":9.5,"y":2.75,"n":10},{"p":6,"x":10,"y":2.75,"n":7},{"p":6,"x":10.5,"y":2.75,"n":9},{"p":6,"x":11.5,"y":2.75,"n":7},{"p":6,"x":2,"y":3,"n":9},{"p":6,"x":2.5,"y":3,"n":10},{"p":6,"x":3,"y":3,"n":10},{"p":6,"x":5.5,"y":3,"n":11},{"p":6,"x":6,"y":3,"n":10},{"p":6,"x":7.5,"y":3,"n":12},{"p":6,"x":8,"y":3,"n":9},{"p":6,"x":8.5,"y":3,"n":10},{"p":6,"x":9,"y":3,"n":8},{"p":6,"x":9.5,"y":3,"n":10},{"p":6,"x":10,"y":3,"n":16},{"p":6,"x":10.5,"y":3,"n":11},{"p":6,"x":1.5,"y":3.25,"n":5},{"p":6,"x":5.5,"y":3.25,"n":4},{"p":6,"x":8.5,"y":3.25,"n":5},{"p":6,"x":10,"y":3.25,"n":5},{"p":6,"x":10.5,"y":3.25,"n":5},{"p":6,"x":11,"y":3.25,"n":6},{"p":6,"x":11.5,"y":3.25,"n":6},{"p":6,"x":12,"y":3.25,"n":6},{"p":6,"x":12.5,"y":3.25,"n":6},{"p":6,"x":13,"y":3.25,"n":6},{"p":6,"x":13.5,"y":3.25,"n":6},{"p":6,"x":1.5,"y":3.5,"n":5},{"p":6,"x":11,"y":3.5,"n":6},{"p":6,"x":11.5,"y":3.5,"n":6},{"p":6,"x":12,"y":3.5,"n":6},{"p":6,"x":12.5,"y":3.5,"n":5},{"p":6,"x":3,"y":3.75,"n":12},{"p":6,"x":4,"y":3.75,"n":4},{"p":6,"x":6,"y":3.75,"n":5},{"p":6,"x":2,"y":4,"n":9},{"p":6,"x":2.5,"y":4,"n":5},{"p":6,"x":3,"y":4,"n":10},{"p":6,"x":4,"y":4,"n":7},{"p":6,"x":6,"y":4,"n":14},{"p":6,"x":7,"y":4,"n":8},{"p":6,"x":7.5,"y":4,"n":5},{"p":6,"x":2,"y":4.25,"n":7},{"p":6,"x":2.5,"y":4.25,"n":5},{"p":6,"x":3.5,"y":4.25,"n":7},{"p":6,"x":6.5,"y":4.25,"n":5},{"p":6,"x":7.5,"y":4.25,"n":5},{"p":6,"x":2,"y":4.75,"n":4},{"p":6,"x":4.5,"y":4.75,"n":4},{"p":6,"x":5,"y":4.75,"n":4},{"p":6,"x":2.5,"y":5,"n":9},{"p":6,"x":2.5,"y":5.25,"n":5},{"p":6,"x":4,"y":5.25,"n":4},
{"p":7,"x":0,"y":0,"n":22},{"p":7,"x":0.5,"y":0,"n":10},{"p":7,"x":1,"y":0,"n":4},{"p":7,"x":0,"y":0.25,"n":11},{"p":7,"x":0.5,"y":0.25,"n":7},{"p":7,"x":1,"y":0.25,"n":4},{"p":7,"x":2.5,"y":0.25,"n":7},{"p":7,"x":0.5,"y":0.5,"n":7},{"p":7,"x":1,"y":0.5,"n":5},{"p":7,"x":3,"y":0.5,"n":7},{"p":7,"x":3.5,"y":0.5,"n":7},{"p":7,"x":1.5,"y":0.75,"n":6},{"p":7,"x":2,"y":0.75,"n":16},{"p":7,"x":2.5,"y":0.75,"n":5},{"p":7,"x":3,"y":0.75,"n":6},{"p":7,"x":4,"y":0.75,"n":6},{"p":7,"x":5,"y":0.75,"n":6},{"p":7,"x":1,"y":1,"n":7},{"p":7,"x":1.5,"y":1,"n":7},{"p":7,"x":2,"y":1,"n":12},{"p":7,"x":2.5,"y":1,"n":15},{"p":7,"x":3,"y":1,"n":10},{"p":7,"x":3.5,"y":1,"n":10},{"p":7,"x":4,"y":1,"n":13},{"p":7,"x":4.5,"y":1,"n":9},{"p":7,"x":5.5,"y":1,"n":7},{"p":7,"x":2,"y":1.25,"n":11},{"p":7,"x":2.5,"y":1.25,"n":14},{"p":7,"x":3,"y":1.25,"n":14},{"p":7,"x":3.5,"y":1.25,"n":12},{"p":7,"x":4,"y":1.25,"n":17},{"p":7,"x":4.5,"y":1.25,"n":24},{"p":7,"x":5,"y":1.25,"n":14},{"p":7,"x":7,"y":1.25,"n":10},{"p":7,"x":2,"y":1.5,"n":12},{"p":7,"x":2.5,"y":1.5,"n":7},{"p":7,"x":3,"y":1.5,"n":25},{"p":7,"x":3.5,"y":1.5,"n":16},{"p":7,"x":4,"y":1.5,"n":12},{"p":7,"x":4.5,"y":1.5,"n":28},{"p":7,"x":5,"y":1.5,"n":16},{"p":7,"x":5.5,"y":1.5,"n":19},{"p":7,"x":6,"y":1.5,"n":11},{"p":7,"x":8.5,"y":1.5,"n":9},{"p":7,"x":10,"y":1.5,"n":17},{"p":7,"x":9.5,"y":1.5,"n":6},{"p":7,"x":1.5,"y":1.75,"n":7},{"p":7,"x":2,"y":1.75,"n":9},{"p":7,"x":2.5,"y":1.75,"n":8},{"p":7,"x":3,"y":1.75,"n":9},{"p":7,"x":3.5,"y":1.75,"n":37},{"p":7,"x":4,"y":1.75,"n":6},{"p":7,"x":4.5,"y":1.75,"n":20},{"p":7,"x":5,"y":1.75,"n":19},{"p":7,"x":5.5,"y":1.75,"n":13},{"p":7,"x":6,"y":1.75,"n":22},{"p":7,"x":10,"y":1.75,"n":12},{"p":7,"x":1,"y":2,"n":13},{"p":7,"x":2.5,"y":2,"n":11},{"p":7,"x":3,"y":2,"n":9},{"p":7,"x":3.5,"y":2,"n":15},{"p":7,"x":4,"y":2,"n":27},{"p":7,"x":4.5,"y":2,"n":7},{"p":7,"x":5,"y":2,"n":16},{"p":7,"x":5.5,"y":2,"n":37},{"p":7,"x":6,"y":2,"n":11},{"p":7,"x":6.5,"y":2,"n":8},{"p":7,"x":7,"y":2,"n":12},{"p":7,"x":7.5,"y":2,"n":14},{"p":7,"x":2.5,"y":2.25,"n":10},{"p":7,"x":3,"y":2.25,"n":6},{"p":7,"x":3.5,"y":2.25,"n":7},{"p":7,"x":4,"y":2.25,"n":23},{"p":7,"x":4.5,"y":2.25,"n":15},{"p":7,"x":5,"y":2.25,"n":11},{"p":7,"x":5.5,"y":2.25,"n":12},{"p":7,"x":6,"y":2.25,"n":23},{"p":7,"x":6.5,"y":2.25,"n":23},{"p":7,"x":7,"y":2.25,"n":24},{"p":7,"x":7.5,"y":2.25,"n":14},{"p":7,"x":8,"y":2.25,"n":8},{"p":7,"x":8.5,"y":2.25,"n":7},{"p":7,"x":1.5,"y":2.5,"n":9},{"p":7,"x":2,"y":2.5,"n":4},{"p":7,"x":2.5,"y":2.5,"n":7},{"p":7,"x":3,"y":2.5,"n":6},{"p":7,"x":4.5,"y":2.5,"n":29},{"p":7,"x":5,"y":2.5,"n":12},{"p":7,"x":5.5,"y":2.5,"n":7},{"p":7,"x":6,"y":2.5,"n":23},{"p":7,"x":6.5,"y":2.5,"n":26},{"p":7,"x":7,"y":2.5,"n":24},{"p":7,"x":7.5,"y":2.5,"n":14},{"p":7,"x":8,"y":2.5,"n":22},{"p":7,"x":8.5,"y":2.5,"n":16},{"p":7,"x":9,"y":2.5,"n":6},{"p":7,"x":1.5,"y":2.75,"n":12},{"p":7,"x":2.5,"y":2.75,"n":13},{"p":7,"x":4.5,"y":2.75,"n":11},{"p":7,"x":5,"y":2.75,"n":16},{"p":7,"x":6,"y":2.75,"n":11},{"p":7,"x":6.5,"y":2.75,"n":13},{"p":7,"x":7,"y":2.75,"n":23},{"p":7,"x":7.5,"y":2.75,"n":16},{"p":7,"x":8,"y":2.75,"n":27},{"p":7,"x":8.5,"y":2.75,"n":16},{"p":7,"x":9,"y":2.75,"n":16},{"p":7,"x":9.5,"y":2.75,"n":13},{"p":7,"x":1.5,"y":3,"n":16},{"p":7,"x":2.5,"y":3,"n":13},{"p":7,"x":5,"y":3,"n":16},{"p":7,"x":5.5,"y":3,"n":6},{"p":7,"x":7,"y":3,"n":24},{"p":7,"x":7.5,"y":3,"n":19},{"p":7,"x":8,"y":3,"n":25},{"p":7,"x":8.5,"y":3,"n":22},{"p":7,"x":9,"y":3,"n":22},{"p":7,"x":9.5,"y":3,"n":16},{"p":7,"x":10.5,"y":3,"n":7},{"p":7,"x":11,"y":3,"n":8},{"p":7,"x":12,"y":3,"n":5},{"p":7,"x":1.5,"y":3.25,"n":6},{"p":7,"x":2.5,"y":3.25,"n":8},{"p":7,"x":5,"y":3.25,"n":7},{"p":7,"x":5.5,"y":3.25,"n":11},{"p":7,"x":7,"y":3.25,"n":11},{"p":7,"x":7.5,"y":3.25,"n":8},{"p":7,"x":8,"y":3.25,"n":9},{"p":7,"x":8.5,"y":3.25,"n":14},{"p":7,"x":9,"y":3.25,"n":15},{"p":7,"x":1.5,"y":3.5,"n":9},{"p":7,"x":2.5,"y":3.5,"n":10},{"p":7,"x":5.5,"y":3.5,"n":22},{"p":7,"x":7,"y":3.5,"n":12},{"p":7,"x":8,"y":3.5,"n":7},{"p":7,"x":6,"y":3.75,"n":12},{"p":7,"x":2.5,"y":3.75,"n":6},{"p":7,"x":3,"y":3.75,"n":7},{"p":7,"x":3.5,"y":3.75,"n":8},{"p":7,"x":10.5,"y":3.75,"n":6},{"p":7,"x":11.5,"y":3.75,"n":6},{"p":7,"x":2,"y":4,"n":6},{"p":7,"x":3.5,"y":4,"n":4},{"p":7,"x":7,"y":4,"n":4},{"p":7,"x":7.5,"y":4,"n":6},{"p":7,"x":8,"y":4,"n":7},{"p":7,"x":2,"y":4.25,"n":5},{"p":7,"x":2.5,"y":4.25,"n":6},{"p":7,"x":3,"y":4.25,"n":6},{"p":7,"x":4,"y":4.25,"n":6},{"p":7,"x":8,"y":4.25,"n":5},{"p":7,"x":2,"y":4.5,"n":5},{"p":7,"x":2.5,"y":4.5,"n":6},{"p":7,"x":3,"y":4.5,"n":5},{"p":7,"x":2.5,"y":4.75,"n":4},{"p":7,"x":3,"y":4.75,"n":12},{"p":7,"x":2.5,"y":5,"n":8},{"p":7,"x":3,"y":5,"n":10},{"p":7,"x":4,"y":5,"n":4},{"p":7,"x":2.5,"y":5.25,"n":6},{"p":7,"x":3,"y":5.25,"n":7},{"p":7,"x":3,"y":5.5,"n":9},{"p":7,"x":3.5,"y":5.75,"n":11},{"p":7,"x":4.5,"y":6,"n":4}
]},
"hconcat":[
{"width":31,"height":965,"data":{"name":"bar"},"mark":{"type":"rect"},
"encoding":{"y":{"field":"v","type":"quantitative","scale":{"domain":[3.6,60],"nice":false,"zero":false},"axis":{"values":[10,20,30,40,50,60],"title":"Number of Fills","titleFontSize":29.5,"titleFontWeight":"bold","titlePadding":11,"titleY":464,"labelFontSize":18,"tickSize":-5,"tickColor":"#555","tickOpacity":0.7,"zindex":1,"labelPadding":11,"grid":false}},"y2":{"field":"v2"},
"color":{"field":"n","type":"quantitative","legend":null,"scale":{"domain":[0,60],"clamp":true,"range":["#00008f","#0000ff","#007fff","#00ffff","#80ff80","#ffff00","#ff8000","#ff0000","#800000"]}},
"stroke":{"field":"n","type":"quantitative","legend":null,"scale":{"domain":[0,60],"clamp":true,"range":["#00008f","#0000ff","#007fff","#00ffff","#80ff80","#ffff00","#ff8000","#ff0000","#800000"]}}}},
{"spacing":7,"vconcat":[
{"width":1442,"height":20,"view":{"stroke":null},"data":{"values":[{"k":1}]},"mark":{"type":"rule","opacity":0},"encoding":{},
"title":{"text":"Histrogram of Fueling Amount Vs Time","fontSize":30.5,"fontWeight":"bold","font":"Liberation Sans","color":"#111","anchor":"middle","dx":152,"offset":-20}},
{"data":{"name":"cells"},
"transform":[{"lookup":"p","from":{"data":{"name":"names"},"key":"p","fields":["period"]}}],
"columns":3,"spacing":{"row":14,"column":70},
"facet":{"field":"period","type":"nominal","sort":["1/1/2011 Through 7/1/2011","7/1/2011 Through 1/1/2012","1/1/2012 Through 7/1/2012","7/1/2012 Through 1/1/2013","1/1/2013 Through 7/1/2013","7/1/2013 Through 1/1/2014","1/1/2014 Through 7/1/2014"],"header":{"title":null,"labelFontSize":19.5,"labelFont":"Liberation Sans","labelColor":"#111","labelPadding":3}},
"resolve":{"axis":{"x":"independent","y":"independent"}},
"spec":{"width":397,"height":241,"view":{"fill":"#00008f","stroke":"#555"},"mark":{"type":"rect","stroke":"#000","strokeWidth":0.7,"strokeOpacity":0.8},
"encoding":{
"x":{"field":"x","type":"quantitative","bin":{"binned":true,"step":0.5},"scale":{"domain":[0,15],"nice":false,"zero":false},"axis":{"values":[0,0.5,1,1.5,2,2.5,3,3.5,4,4.5,5,5.5,6,6.5,7,7.5,8,8.5,9,9.5,10,10.5,11,11.5,12,12.5,13,13.5,14,14.5,15],"labelExpr":"datum.value % 5 === 0 ? format(datum.value,'d') : ''","labelOverlap":false,"labelFontSize":18,"labelPadding":5,"labelFlush":false,"tickSize":0,"grid":true,"gridColor":"#000","gridWidth":0.7,"gridOpacity":0.7,"title":"Fill Time [min]","titleFontSize":20,"titleFontWeight":"normal","titlePadding":3}},
"y":{"field":"y","type":"quantitative","bin":{"binned":true,"step":0.25},"scale":{"domain":[0,7],"nice":false,"zero":false},"axis":{"values":[0,0.25,0.5,0.75,1,1.25,1.5,1.75,2,2.25,2.5,2.75,3,3.25,3.5,3.75,4,4.25,4.5,4.75,5,5.25,5.5,5.75,6,6.25,6.5,6.75,7],"labelExpr":"datum.value % 1 === 0 ? format(datum.value,'d') : ''","labelOverlap":false,"labelFontSize":18,"labelPadding":6,"labelFlush":false,"tickSize":0,"grid":true,"gridColor":"#000","gridWidth":0.7,"gridOpacity":0.7,"title":"Amount [kg]","titleFontSize":20,"titleFontWeight":"normal","titlePadding":7}},
"color":{"field":"n","type":"quantitative","legend":null,"scale":{"domain":[0,60],"clamp":true,"range":["#00008f","#0000ff","#007fff","#00ffff","#80ff80","#ffff00","#ff8000","#ff0000","#800000"]}}}}}
]}
],
"resolve":{"scale":{"color":"shared","stroke":"independent"}}}
